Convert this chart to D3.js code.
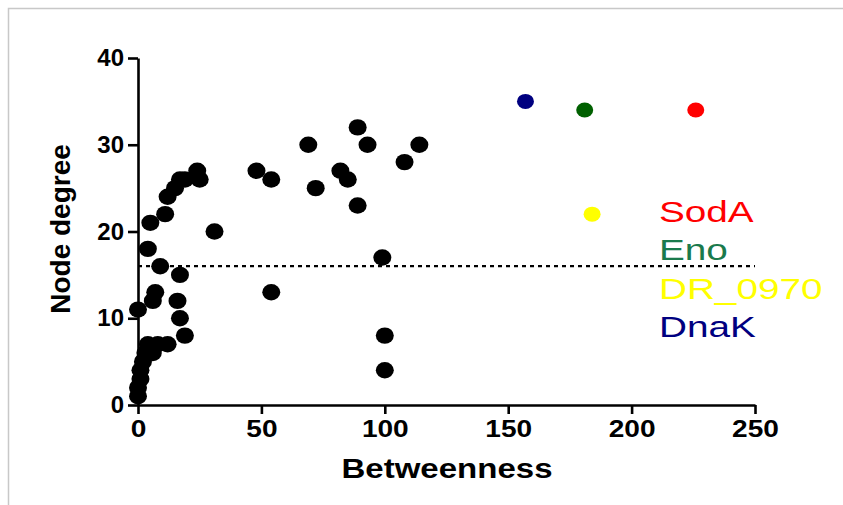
<!DOCTYPE html>
<html><head><meta charset="utf-8">
<script src="https://cdn.jsdelivr.net/npm/d3@7"></script>
<style>
html,body{margin:0;padding:0;background:#fff;}
svg{display:block;font-family:Arial,"Liberation Sans",sans-serif;}
</style></head>
<body>
<svg id="chart" width="843" height="505"></svg>
<script>
// Betweenness (x) and node degree (y) of ordinary proteins
const betweenness = [0,0,1,1,2,3,4,6,8,12,0,6,7,16,17,19,17,9,4,5,11,12,15,17,19,24,25,31,48,54,54,69,72,82,85,89,93,89,99,100,100,108,114];
const degree      = [1,2,3,4,5,6,7,6,7,7,11,12,13,12,10,8,15,16,18,21,22,24,25,26,26,27,26,20,27,26,13,30,25,27,26,32,30,23,17,8,4,28,30];
// highlighted proteins
const hubNames = ["SodA","Eno","DR_0970","DnaK"];
const hubBetweenness = [226,181,184,157];
const hubDegree = [34,34,22,35];
const hubColors = ["#ff0000","#006000","#ffff00","#000080"];
const hubTextColors = ["#ff0000","#1a7a4c","#ffff00","#000080"];
const threshold = 16;
const xTicks = [0,50,100,150,200,250];
const yTicks = [0,10,20,30,40];

const svg = d3.select("#chart");
// frame
svg.append("rect").attr("x",8.5).attr("y",8.5).attr("width",850).attr("height",520)
  .attr("fill","none").attr("stroke","#c8c8c8").attr("stroke-width",1.5);

const x = d3.scaleLinear().domain([0,250]).range([138,755]);
const y = d3.scaleLinear().domain([0,40]).range([405,58]);

// threshold line
svg.append("line").attr("x1",x(0)).attr("x2",x(250)).attr("y1",y(threshold)).attr("y2",y(threshold))
  .attr("stroke","#000").attr("stroke-width",2.2).attr("stroke-dasharray","4,4");

const xAxis = svg.append("g").attr("transform",`translate(0,${y(0)})`)
  .call(d3.axisBottom(x).tickValues(xTicks).tickSize(9).tickSizeOuter(0).tickPadding(6));
const yAxis = svg.append("g").attr("transform",`translate(${x(0)},0)`)
  .call(d3.axisLeft(y).tickValues(yTicks).tickSize(10).tickSizeOuter(0).tickPadding(4));
[xAxis,yAxis].forEach(g=>{
  g.select(".domain").attr("stroke","#000").attr("stroke-width",2.6);
  g.selectAll(".tick line").attr("stroke","#000").attr("stroke-width",2.6);
  g.selectAll(".tick text").attr("fill","#000").attr("font-size",24).attr("font-weight","bold")
    .attr("font-family",'Arial,"Liberation Sans",sans-serif');
});
xAxis.selectAll(".tick text").attr("transform","scale(1.17,1)");

// axis titles
svg.append("text").attr("x",447).attr("y",478).attr("text-anchor","middle")
  .attr("font-size",28).attr("font-weight","bold").attr("textLength",211).attr("lengthAdjust","spacingAndGlyphs")
  .text("Betweenness");
svg.append("text").attr("transform","translate(70,229) rotate(-90)").attr("text-anchor","middle")
  .attr("font-size",28).attr("font-weight","bold").text("Node degree");

// points
const pts = betweenness.map((b,i)=>({b,d:degree[i]}));
svg.append("g").selectAll("ellipse").data(pts).join("ellipse")
  .attr("cx",d=>x(d.b)).attr("cy",d=>y(d.d)).attr("rx",9).attr("ry",8.2).attr("fill","#000");

const hubs = hubNames.map((n,i)=>({n,b:hubBetweenness[i],d:hubDegree[i],c:hubColors[i],t:hubTextColors[i]}));
svg.append("g").selectAll("ellipse").data(hubs).join("ellipse")
  .attr("cx",d=>x(d.b)).attr("cy",d=>y(d.d)).attr("rx",8.5).attr("ry",7.5).attr("fill",d=>d.c);

// legend labels
svg.append("g").selectAll("text").data(hubs).join("text")
  .attr("transform",(d,i)=>`translate(659,${222+i*38.3}) scale(1.29,1)`)
  .attr("font-size",30).attr("fill",d=>d.t).text(d=>d.n);
</script>
</body></html>
